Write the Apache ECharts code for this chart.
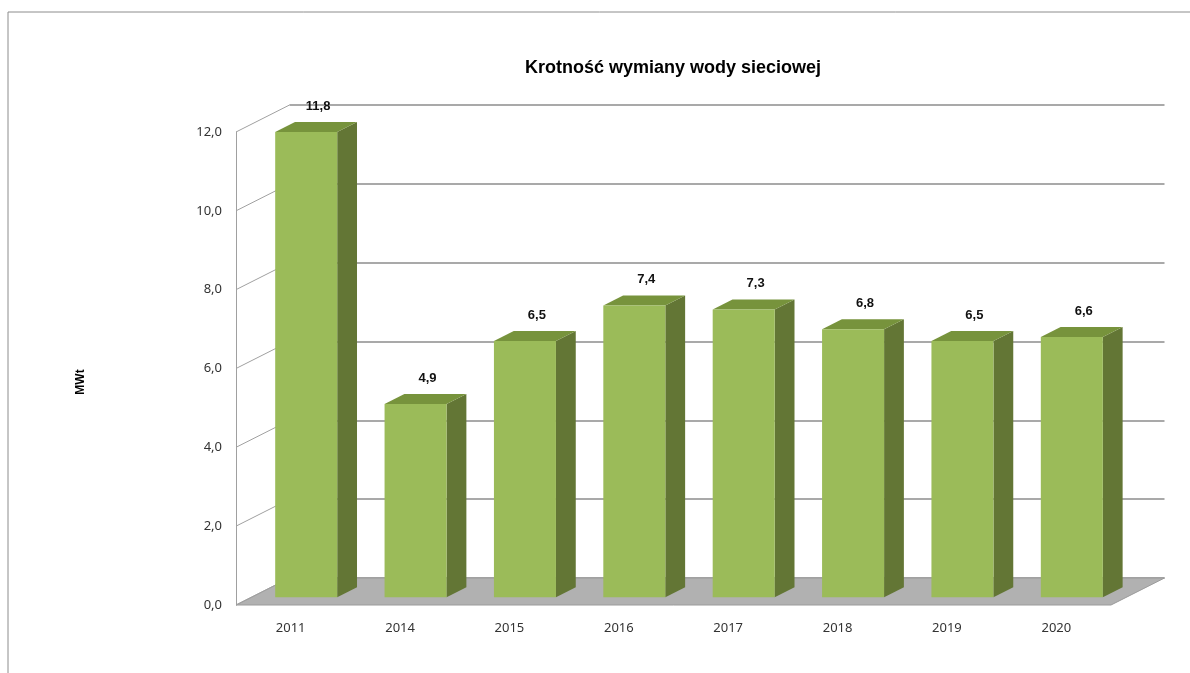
<!DOCTYPE html>
<html lang="pl">
<head>
  <meta charset="UTF-8">
  <title>Krotność wymiany wody sieciowej</title>
  <script src="https://cdn.jsdelivr.net/npm/echarts@6/dist/echarts.min.js"></script>
  <style type="text/css">
    html, body { margin: 0; padding: 0; background: #fff; }
    #main { width: 1190px; height: 673px; }
  </style>
</head>
<body>
  <div id="main"></div>

  <script type="text/javascript">
    var categories = ['2011', '2014', '2015', '2016', '2017', '2018', '2019', '2020'];
    var values = [11.8, 4.9, 6.5, 7.4, 7.3, 6.8, 6.5, 6.6];
    var yTicks = [0, 2, 4, 6, 8, 10, 12];

    // przesuniecie "glebi" wykresu 3D (przod -> tyl sciany)
    var DX = 53.5, DY = -27;
    var FRONT = 0.29, BACK = 0.66;   // polozenie slupka w glebi
    var BAR_W = 0.567;

    function fmt(v) {
      return v.toFixed(1).replace('.', ',');
    }

    var myChart = echarts.init(document.getElementById('main'));

    function renderFloor(params, api) {
      var cs = params.coordSys;
      var y0 = api.coord([0, 0])[1];
      return {
        type: 'polygon',
        shape: { points: [
          [cs.x, y0], [cs.x + cs.width, y0],
          [cs.x + cs.width + DX, y0 + DY], [cs.x + DX, y0 + DY]
        ] },
        style: { fill: '#b1b1b1', stroke: '#9a9a9a', lineWidth: 1 }
      };
    }

    function renderSide(params, api) {
      var cs = params.coordSys;
      var y = api.coord([0, api.value(0)])[1];
      return {
        type: 'line',
        shape: { x1: cs.x, y1: y, x2: cs.x + DX, y2: y + DY },
        style: { stroke: '#a0a0a0', lineWidth: 1 }
      };
    }

    function renderBar(params, api) {
      var i = api.value(0), v = api.value(1);
      var p0 = api.coord([i, 0]);
      var p1 = api.coord([i, v]);
      var bw = api.size([1, 0])[0] * BAR_W;
      var x0 = p0[0] - bw / 2 + FRONT * DX;
      var x1 = x0 + bw;
      var yb = p0[1] + FRONT * DY;
      var yt = p1[1] + FRONT * DY;
      var ddx = (BACK - FRONT) * DX, ddy = (BACK - FRONT) * DY;
      return {
        type: 'group',
        children: [
          { type: 'polygon', shape: { points: [[x1, yb], [x1 + ddx, yb + ddy], [x1 + ddx, yt + ddy], [x1, yt]] },
            style: { fill: '#637635' } },
          { type: 'polygon', shape: { points: [[x0, yt], [x1, yt], [x1 + ddx, yt + ddy], [x0 + ddx, yt + ddy]] },
            style: { fill: '#77933c' } },
          { type: 'rect', shape: { x: x0, y: yt, width: bw, height: yb - yt },
            style: { fill: '#9bbb59' } },
          { type: 'text', x: (x0 + x1) / 2 + ddx / 2 + 2, y: yt + ddy - 16,
            style: { text: fmt(v), font: 'bold 13px "Liberation Sans", Arial, sans-serif', fill: '#111',
                     align: 'center', verticalAlign: 'middle' } }
        ]
      };
    }

    var option = {
      animation: false,
      title: {
        text: 'Krotność wymiany wody sieciowej',
        left: 668, top: 54, textAlign: 'center',
        textStyle: { fontFamily: '"Liberation Sans", Arial, sans-serif', fontSize: 18, fontWeight: 'bold', color: '#000' }
      },
      graphic: [
        { type: 'rect', shape: { x: 8, y: 12, width: 1300, height: 800 },
          style: { fill: 'none', stroke: '#8c8c8c', lineWidth: 1 }, silent: true },
        { type: 'text', x: 81, y: 382, rotation: Math.PI / 2,
          style: { text: 'MWt', font: 'bold 12px "Liberation Sans", Arial, sans-serif', fill: '#000',
                   align: 'center', verticalAlign: 'middle' } }
      ],
      grid: [
        { left: 236, right: 79, top: 132, bottom: 68 },
        { left: 236 + DX, right: 79 - DX, top: 132 + DY, bottom: 68 - DY }
      ],
      xAxis: [
        { type: 'category', gridIndex: 0, data: categories,
          axisLine: { show: false }, axisTick: { show: false },
          axisLabel: { margin: 17, color: '#333', fontFamily: '"Noto Sans", sans-serif', fontSize: 13 } },
        { type: 'category', gridIndex: 1, data: categories, show: false }
      ],
      yAxis: [
        { type: 'value', gridIndex: 0, min: 0, max: 12, interval: 2,
          axisLine: { show: true, lineStyle: { color: '#a0a0a0', width: 1 } },
          axisTick: { show: false }, splitLine: { show: false },
          axisLabel: { margin: 14, color: '#333', fontFamily: '"Noto Sans", sans-serif', fontSize: 13,
                       formatter: function (v) { return fmt(v); } } },
        { type: 'value', gridIndex: 1, min: 0, max: 12, interval: 2,
          axisLine: { show: false }, axisTick: { show: false }, axisLabel: { show: false },
          splitLine: { show: true, lineStyle: { color: '#8c8c8c', width: 1.6 } } }
      ],
      series: [
        { type: 'custom', xAxisIndex: 0, yAxisIndex: 0, renderItem: renderFloor, data: [0], z: 1 },
        { type: 'custom', xAxisIndex: 0, yAxisIndex: 0, renderItem: renderSide,
          data: yTicks.map(function (t) { return [t]; }), z: 2 },
        { type: 'custom', xAxisIndex: 0, yAxisIndex: 0, renderItem: renderBar,
          data: values.map(function (v, i) { return [i, v]; }), z: 3 }
      ]
    };

    myChart.setOption(option);
  </script>
</body>
</html>
